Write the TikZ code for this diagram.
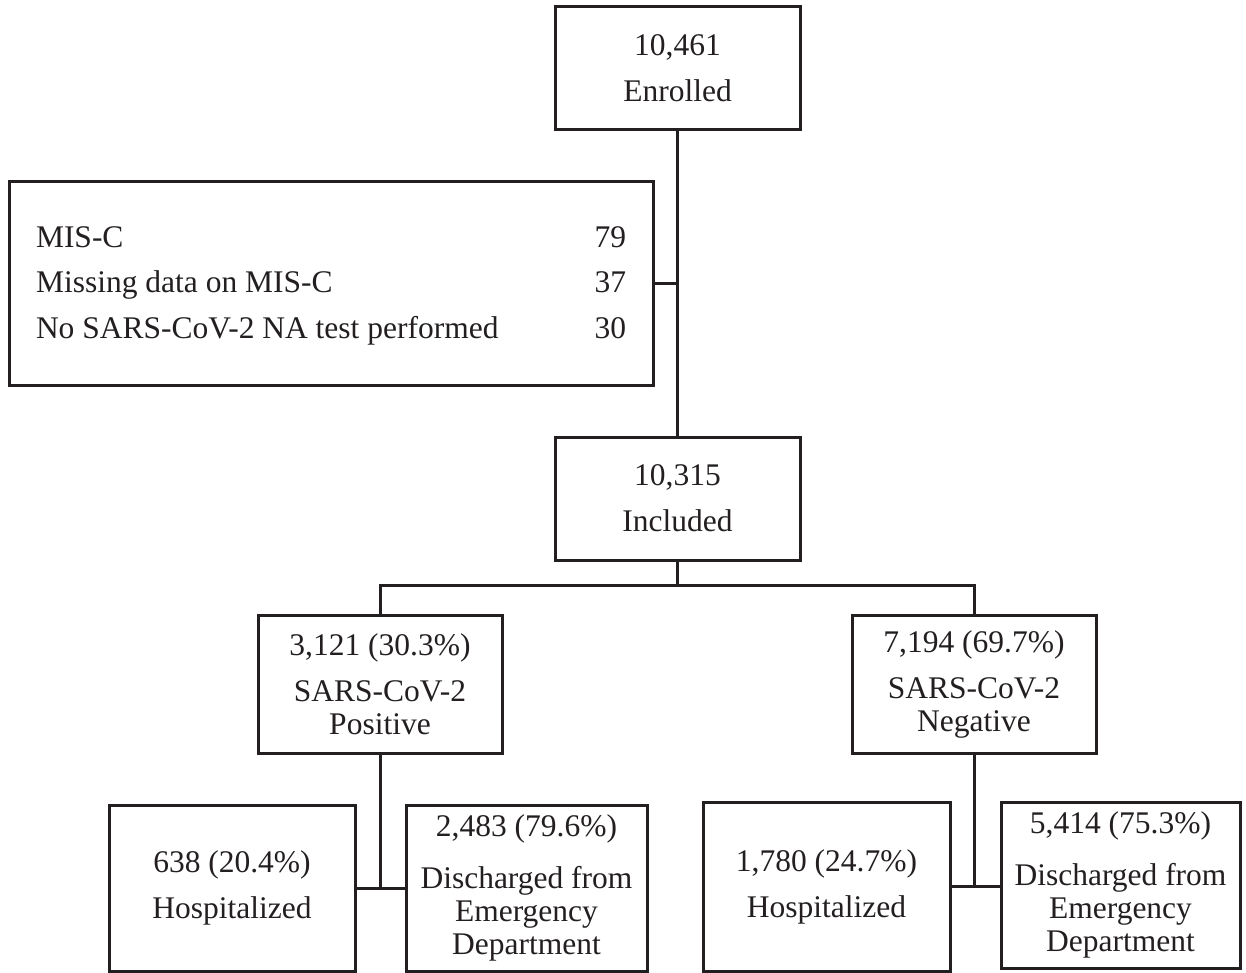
\documentclass[tikz,border=0pt]{standalone}
\usepackage{fontspec}
\setmainfont{Liberation Serif}
\usepackage{xcolor}
\definecolor{ink}{HTML}{231F20}

\begin{document}
\begin{tikzpicture}
  [x=0.5pt,y=-0.5pt,line width=1.5pt,draw=ink,
   every node/.style={rectangle,draw=ink,text=ink,inner sep=0pt,align=center,
     font=\fontsize{15.75}{16.5}\selectfont},
   box/.style 2 args={minimum width=#1*0.5pt,minimum height=#2*0.5pt}]
  \useasboundingbox (0,0) rectangle (1246,973);

  \node[box={245}{123}] (enrolled) at (677.5,68.5) {10,461\\[6.5pt]Enrolled};
  \node[box={644}{203}] (excluded) at (331,283.5)
    {\fontsize{15.75}{22.75}\selectfont
     \begin{tabular*}{295pt}{@{}l@{\extracolsep{\fill}}r@{}}
       MIS-C & 79\\
       Missing data on MIS-C & 37\\
       No SARS-CoV-2 NA test performed & 30
     \end{tabular*}};
  \node[box={245}{123}] (included) at (677.5,498.5) {10,315\\[6.5pt]Included};
  \node[box={244}{138}] (positive) at (380,684) {3,121 (30.3\%)\\[6.5pt]SARS-CoV-2\\Positive};
  \node[box={244}{138}] (negative) at (974,684) {7,194 (69.7\%)\\[6.5pt]SARS-CoV-2\\Negative};
  \node[box={246}{166}] (poshosp) at (232,888) {638 (20.4\%)\\[6.5pt]Hospitalized};
  \node[box={241}{166}] (posdisch) at (526.5,888) {2,483 (79.6\%)\\[9.5pt]Discharged from\\Emergency\\Department};
  \node[box={247}{169}] (neghosp) at (826.5,886.5) {1,780 (24.7\%)\\[6.5pt]Hospitalized};
  \node[box={239}{166}] (negdisch) at (1120.5,885) {5,414 (75.3\%)\\[9.5pt]Discharged from\\Emergency\\Department};

  \coordinate (split) at (677.5,585);

  \draw (enrolled) -- (included);
  \draw (excluded.east) -- (excluded.east -| enrolled.south);
  \draw (included) -- (split);
  \draw (positive.north) |- (split) -| (negative.north);

  \foreach \top/\left/\right in {positive/poshosp/posdisch, negative/neghosp/negdisch}
  {
    \draw (\top.south) -- (\top.south |- \left.east);
    \draw (\left.east) -- (\left.east -| \right.west);
  }
\end{tikzpicture}
\end{document}
